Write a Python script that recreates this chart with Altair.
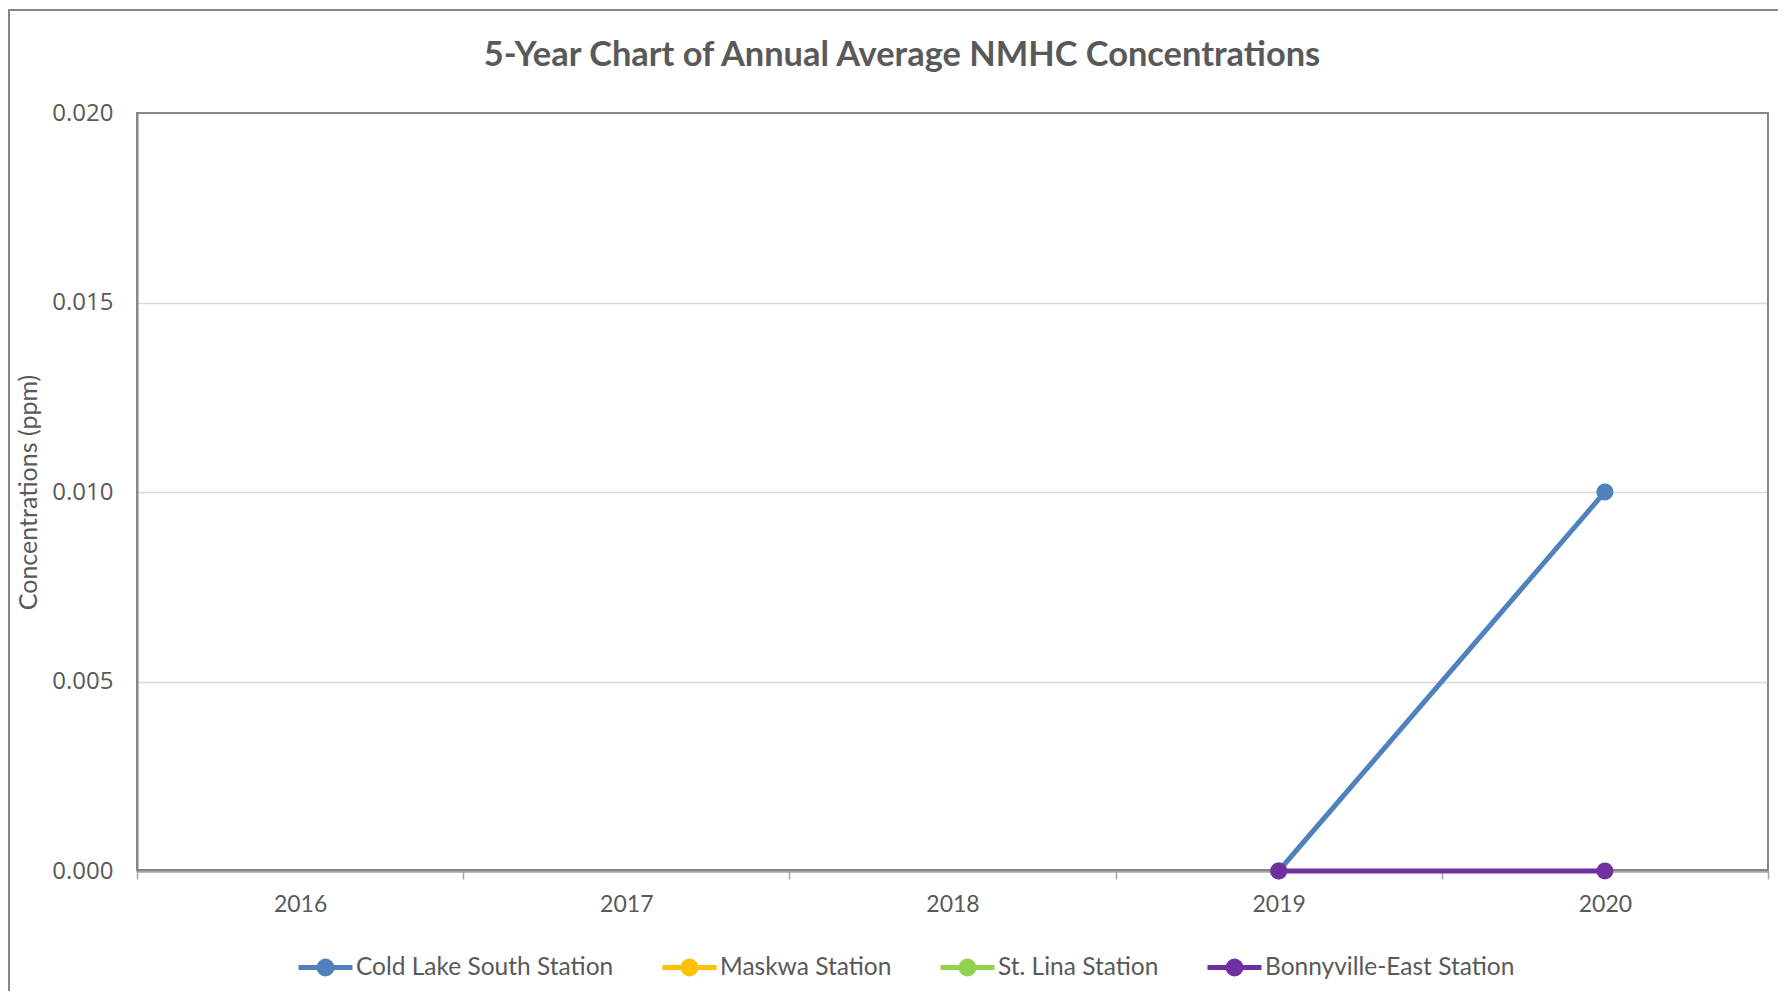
import altair as alt
import pandas as pd

years = [2016, 2017, 2018, 2019, 2020]
stations = ["Cold Lake South Station", "Maskwa Station", "St. Lina Station", "Bonnyville-East Station"]
colors = ["#4F81BD", "#FFC000", "#92D050", "#7030A0"]
cold_lake = [None, None, None, 0.000, 0.010]
maskwa = [None, None, None, None, None]
st_lina = [None, None, None, None, None]
bonnyville = [None, None, None, 0.000, 0.000]
y_ticks = [0.0, 0.005, 0.010, 0.015, 0.020]
title_text = "5-Year Chart of Annual Average NMHC Concentrations"

series = [cold_lake, maskwa, st_lina, bonnyville]
rows = []
for si, (name, vals) in enumerate(zip(stations, series)):
    for y, v in zip(years, vals):
        rows.append({"station": name, "order": si, "year": str(y), "value": v})
df = pd.DataFrame(rows)

W, H = 1631, 758
TXT = "#595959"

xenc = alt.X(
    "year:O",
    bandPosition=0.5,
    sort=[str(y) for y in years],
    scale=alt.Scale(type="band", domain=[str(y) for y in years], paddingInner=0, paddingOuter=0),
    axis=alt.Axis(
        title=None, labelAngle=0, grid=False, tickBand="extent", tickSize=8,
        tickColor="#A6A6A6", tickWidth=1.5, domainColor="#A6A6A6", domainWidth=2.5,
        labelFont="Lato", labelFontSize=23, labelColor=TXT, labelPadding=14,
    ),
)
yenc = alt.Y(
    "value:Q",
    scale=alt.Scale(domain=[0, 0.02], nice=False),
    axis=alt.Axis(
        title="Concentrations (ppm)", values=y_ticks, format=".3f", ticks=False,
        gridColor="#D9D9D9", gridWidth=1.5, domainColor="#868686", domainWidth=2,
        labelFont="Open Sans", labelFontSize=24, labelColor=TXT, labelPadding=24,
        titleFont="Lato", titleFontSize=25, titleFontWeight="normal", titleColor=TXT,
        titleX=-109, titleY=H / 2, titleAlign="center", titleBaseline="middle", titleAngle=270,
    ),
)
cenc = alt.Color(
    "station:N",
    scale=alt.Scale(domain=stations, range=colors),
    sort=stations,
    legend=alt.Legend(
        title=None, orient="none", direction="horizontal", columns=4,
        legendX=159, legendY=825,
        symbolType="M-1,0H-0.24M0.24,0H1M-0.24,0a0.24,0.24 0 1,0 0.48,0a0.24,0.24 0 1,0 -0.48,0Z",
        symbolSize=2916, symbolStrokeWidth=5, symbolOpacity=1,
        labelFont="Lato", labelFontSize=24.5, labelColor=TXT, labelOffset=1, labelLimit=0,
        columnPadding=38,
    ),
)

border = alt.Chart(alt.Data(values=[{"a": 1}])).mark_rect(
    fill="transparent", stroke="#868686", strokeWidth=2
).encode(
    x=alt.value(-128), x2=alt.value(1680), y=alt.value(-103), y2=alt.value(920)
)

frame = alt.Chart(alt.Data(values=[{"a": 1}])).mark_rect(
    fill="transparent", stroke="#868686", strokeWidth=2
).encode(
    x=alt.value(0), x2=alt.value(W), y=alt.value(0), y2=alt.value(H - 1)
)

title = alt.Chart(alt.Data(values=[{"t": title_text}])).mark_text(
    font="Lato", fontSize=34.4, fontWeight="bold", color=TXT, align="center", baseline="middle"
).encode(x=alt.value(765), y=alt.value(-57), text="t:N")

lines = alt.Chart(df).mark_line(strokeWidth=5).encode(
    x=xenc, y=yenc, color=cenc, detail="station:N", order="year:O"
)
points = alt.Chart(df).mark_point(filled=True, size=290, opacity=1).encode(
    x=xenc, y=yenc, color=alt.Color("station:N", scale=alt.Scale(domain=stations, range=colors), legend=None)
)

chart = alt.layer(border, frame, title, lines, points).properties(
    width=W, height=H,
    autosize=alt.AutoSizeParams(type="none"),
    padding={"left": 129, "top": 105, "right": 10, "bottom": 120},
).configure_view(stroke="#868686", strokeWidth=2).configure(background="white")

chart.save("out.html", embed_options={"renderer": "svg", "actions": False})
